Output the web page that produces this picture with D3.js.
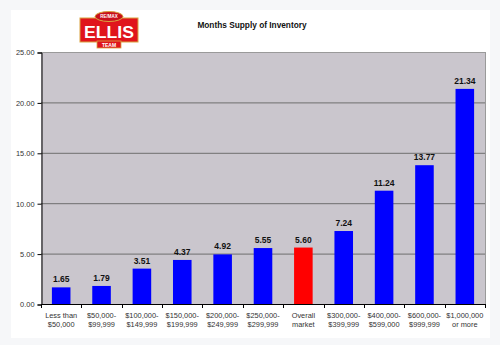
<!DOCTYPE html>
<html><head><meta charset="utf-8">
<script src="https://cdn.jsdelivr.net/npm/d3@7"></script>
<style>body{margin:0;background:#f6f7f9;}svg{display:block;}</style>
</head><body>
<script>
const categories = [["Less than","$50,000"],["$50,000-","$99,999"],["$100,000-","$149,999"],["$150,000-","$199,999"],["$200,000-","$249,999"],["$250,000-","$299,999"],["Overall","market"],["$300,000-","$399,999"],["$400,000-","$599,000"],["$600,000-","$999,999"],["$1,000,000","or more"]];
const values = [1.65,1.79,3.51,4.37,4.92,5.55,5.60,7.24,11.24,13.77,21.34];
const highlight = [false,false,false,false,false,false,true,false,false,false,false];
const yTicks = [0,5,10,15,20,25];
const title = "Months Supply of Inventory";

const W=500,H=345;
const svg=d3.select("body").append("svg").attr("width",W).attr("height",H);
svg.append("rect").attr("width",W).attr("height",H).attr("fill","#f6f7f9");
svg.append("rect").attr("x",11).attr("y",10).attr("width",479).attr("height",328).attr("fill","#ffffff");

const L=41,R=485,T=52,B=304;
const x=d3.scaleBand().domain(d3.range(values.length)).range([L,R]).paddingInner(0.54).paddingOuter(0.27);
const y=d3.scaleLinear().domain([0,25]).range([B,T]);
const font="Liberation Sans, Arial, sans-serif";

svg.append("rect").attr("x",L).attr("y",T).attr("width",R-L).attr("height",B-T).attr("fill","#cac6cd");
// gridlines
svg.append("g").selectAll("line").data(yTicks.filter(d=>d>0)).join("line")
  .attr("x1",L).attr("x2",R).attr("y1",d=>y(d)+0.5).attr("y2",d=>y(d)+0.5)
  .attr("stroke",d=>d===25?"#9a9a9a":"#6e6e6e").attr("stroke-width",1);
svg.append("line").attr("x1",R+0.5).attr("x2",R+0.5).attr("y1",T).attr("y2",B).attr("stroke","#9a9a9a");

// bars
svg.append("g").selectAll("rect").data(values).join("rect")
  .attr("x",(d,i)=>x(i)).attr("width",x.bandwidth())
  .attr("y",d=>y(d)).attr("height",d=>B-y(d))
  .attr("fill",(d,i)=>highlight[i]?"#ff0000":"#0000ff");

// value labels
svg.append("g").selectAll("text").data(values).join("text")
  .attr("x",(d,i)=>x(i)+x.bandwidth()/2).attr("y",d=>y(d)-5)
  .attr("text-anchor","middle").attr("font-family",font).attr("font-size","8.5px").attr("font-weight","bold").attr("fill","#111")
  .text(d=>d.toFixed(2));

// y axis
const yAxis=d3.axisLeft(y).tickValues(yTicks).tickFormat(d3.format(".2f")).tickSize(4).tickPadding(3);
const gy=svg.append("g").attr("transform",`translate(${L+0.5},0.5)`).call(yAxis);
gy.select(".domain").attr("stroke","#000");
gy.selectAll("text").attr("font-family",font).attr("font-size","7.4px").attr("fill","#333");

// x axis
svg.append("line").attr("x1",L).attr("x2",R).attr("y1",B+0.5).attr("y2",B+0.5).attr("stroke","#000");
svg.append("g").selectAll("line").data(d3.range(values.length+1)).join("line")
  .attr("x1",i=>Math.round(L+i*(R-L)/values.length)+0.5)
  .attr("x2",i=>Math.round(L+i*(R-L)/values.length)+0.5)
  .attr("y1",B).attr("y2",B+4).attr("stroke","#000");
const xl=svg.append("g").selectAll("text").data(categories).join("text")
  .attr("text-anchor","middle").attr("font-family",font).attr("font-size","7.4px").attr("fill","#333");
xl.each(function(d,i){
  const t=d3.select(this);
  d.forEach((line,j)=>t.append("tspan").attr("x",x(i)+x.bandwidth()/2).attr("y",317.8+j*9).text(line));
});

// title
svg.append("text").attr("x",252).attr("y",28).attr("text-anchor","middle").attr("font-family",font)
  .attr("font-size","8.3px").attr("font-weight","bold").attr("fill","#111").text(title);

// logo
const lg=svg.append("g");
lg.append("rect").attr("x",80).attr("y",18).attr("width",58).attr("height",24).attr("fill","#e0141c").attr("stroke","#d9a441").attr("stroke-width",1);
lg.append("ellipse").attr("cx",109).attr("cy",16.5).attr("rx",14).attr("ry",5).attr("fill","#c8101a").attr("stroke","#d9a441").attr("stroke-width",1);
lg.append("text").attr("x",109).attr("y",18).attr("text-anchor","middle").attr("font-family",font).attr("font-size","4.5px").attr("font-weight","bold").attr("fill","#fff").text("RE/MAX");
lg.append("text").attr("x",109).attr("y",37.5).attr("text-anchor","middle").attr("font-family",font).attr("font-size","16px").attr("font-weight","bold").attr("fill","#fff").attr("textLength",50).attr("lengthAdjust","spacingAndGlyphs").text("ELLIS");
lg.append("rect").attr("x",97).attr("y",41).attr("width",24).attr("height",7).attr("fill","#e0141c").attr("stroke","#d9a441").attr("stroke-width",0.8);
lg.append("text").attr("x",109).attr("y",47).attr("text-anchor","middle").attr("font-family",font).attr("font-size","5px").attr("font-weight","bold").attr("fill","#fff").text("TEAM");
</script>
</body></html>
